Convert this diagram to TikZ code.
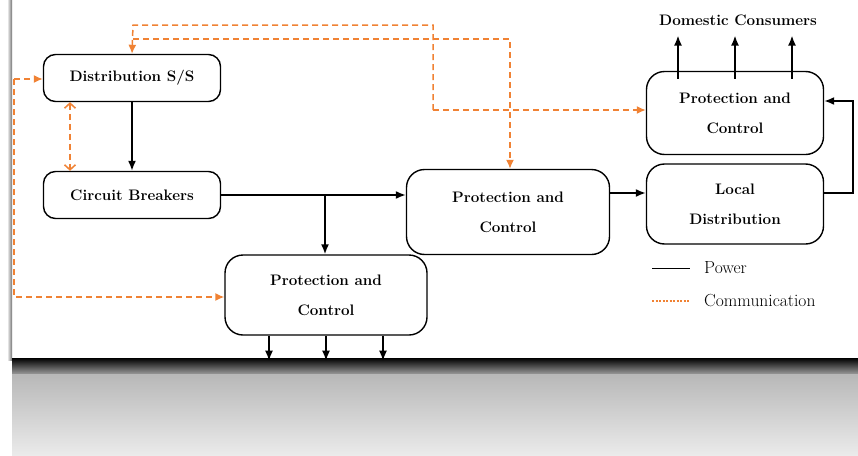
\documentclass[tikz,border=0pt]{standalone}
\usepackage{tikz}
\usetikzlibrary{arrows,arrows.meta,positioning}
\definecolor{commorange}{RGB}{240,130,52}
\tikzstyle{block}=[draw, rounded corners=12pt, line width=1.4pt, align=center, inner sep=0pt,
  font=\fontsize{15.2}{30}\selectfont\bfseries]
\newcommand{\block}{\node[block]}
\tikzstyle{power}=[line width=1.6pt, -{Latex[length=10pt,width=8pt]}]
\tikzstyle{comm}=[commorange, line width=1.5pt, dash pattern=on 6pt off 4pt, -{Latex[length=9pt,width=8pt]}]
\tikzstyle{legend}=[anchor=west, inner sep=0pt, font=\fontsize{17.5}{20}\selectfont]

\begin{document}
\begin{tikzpicture}[x=1pt, y=-1pt]
    \useasboundingbox (0,0) rectangle (858,455);
    % frame and its reflection
    \fill[white] (0,0) rectangle (858,455);
    \shade[left color=white, right color=black!55] (7,0) rectangle (12,360);
    \shade[top color=black, bottom color=black!40] (12,358) rectangle (858,374);
    \shade[top color=black!28, bottom color=black!8] (12,374) rectangle (858,455);

    % blocks
    \block[minimum width=177pt, minimum height=47pt] (dss) at (132,78) {Distribution S/S};
    \block[minimum width=177pt, minimum height=47pt] (cb) at (132,195) {Circuit Breakers};
    \block[minimum width=203pt, minimum height=85pt, rounded corners=18pt] (pcm) at (508,212) {Protection and\\Control};
    \block[minimum width=177pt, minimum height=83pt, rounded corners=18pt] (pcr) at (735,113) {Protection and\\Control};
    \block[minimum width=177pt, minimum height=80pt, rounded corners=18pt] (ld) at (735,204) {Local\\Distribution};
    \block[minimum width=202pt, minimum height=80pt, rounded corners=18pt] (pcb) at (326,295) {Protection and\\Control};
    \node[font=\fontsize{15.2}{18}\selectfont\bfseries, inner sep=0pt] (dom) at (738,20) {Domestic Consumers};

    % power
    \draw[power] (dss) -- (cb);
    \draw[power] (cb.east) -- (pcm.west |- cb.east);
    \coordinate (br) at (325,195);
    \draw[power] (br) -- (br |- pcb.north);
    \draw[power] ([yshift=19pt]pcm.east) -- ([yshift=11pt]ld.west);
    \draw[power] ([yshift=11pt]ld.east) -- ++(29,0) |- ([yshift=12pt]pcr.east);
    \foreach \dx [count=\i] in {-57,0,57} {
        \coordinate (up\i) at ([xshift=\dx pt, yshift=-10pt]pcr.north |- dom.south);
        \draw[power] ([xshift=\dx pt, yshift=-8pt]pcr.north) -- (up\i);
    }
    \foreach \dx [count=\i] in {-57,0,57} {
        \coordinate (out\i) at ([xshift=\dx pt, yshift=-25pt]pcb.south);
        \draw[power] ([xshift=\dx pt]pcb.south) -- (out\i);
    }

    % communication
    \coordinate (t1) at (133,25);
    \coordinate (t2) at (433,25);
    \coordinate (t3) at (433,110);
    \draw[comm] (t3) -- (t2) -- (t1) -- (dss.north);
    \draw[comm] (t3) -- (pcr.west |- t3);
    \coordinate (u1) at (133,39);
    \coordinate (u2) at (510,39);
    \draw[comm] (u1) -- (u2) -- (u2 |- pcm.north);
    \coordinate (l1) at (14,79);
    \coordinate (l2) at (14,297);
    \draw[comm] (l1) -- (dss.west |- l1);
    \draw[comm] (l1) -- (l2) -- (pcb.west |- l2);
    \draw[comm, {Straight Barb[length=5pt,width=11pt]}-{Straight Barb[length=5pt,width=11pt]}]
        ([xshift=-62pt]dss.south) -- ([xshift=-62pt]cb.north);

    % legend
    \node[legend] (pw) at (704,268) {Power};
    \node[legend] (cm) at (704,301) {Communication};
    \coordinate (lp1) at (652,268);
    \coordinate (lc1) at (652,301);
    \draw[line width=1pt] (lp1) -- (lp1 -| 690,0);
    \draw[commorange, line width=1.2pt, dash pattern=on 2pt off 1.5pt] (lc1) -- (lc1 -| 690,0);
\end{tikzpicture}
\end{document}
